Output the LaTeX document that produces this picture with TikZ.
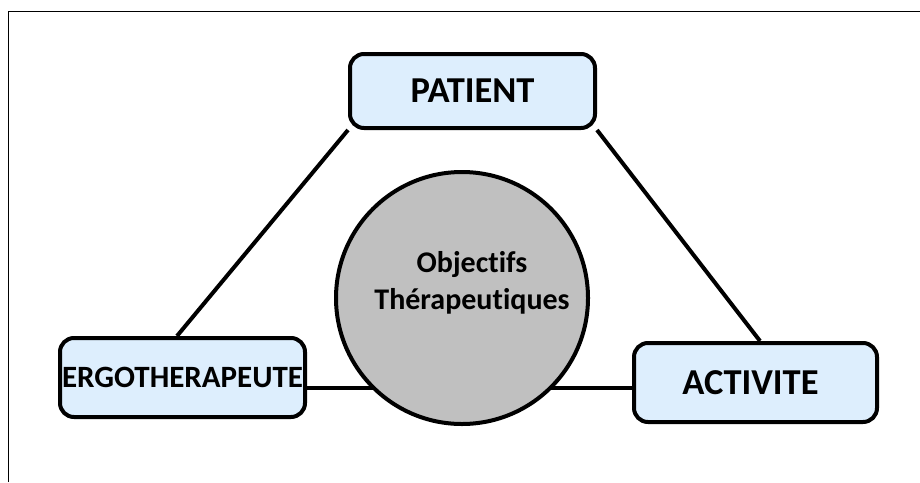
\documentclass[tikz,border=0pt]{standalone}
\usepackage{fontspec}
\setmainfont{Carlito}[Ligatures={NoCommon}]
\usetikzlibrary{backgrounds}
\definecolor{boxfill}{HTML}{DDEEFD}
\definecolor{circfill}{HTML}{C0C0C0}
\begin{document}
\begin{tikzpicture}[x=1pt,y=-1pt,
  box/.style={draw=black,line width=4pt,rounded corners=14pt,fill=boxfill,inner sep=0pt,font=\bfseries\fontsize{36.5}{40}\selectfont},
  link/.style={line width=4pt}]
\useasboundingbox (0,0) rectangle (920,482);
\draw[line width=1pt] (8,482) -- (8,11) -- (920,11);
\node[box,minimum width=245pt,minimum height=74pt] (patient) at (472.5,91) {PATIENT};
\node[box,minimum width=245pt,minimum height=79pt,font=\bfseries\fontsize{31}{34}\selectfont] (ergo) at (182.5,377.5) {ERGOTHERAPEUTE};
\node[box,minimum width=243pt,minimum height=79pt] (act) at (755.5,382.5) {ACTIVITE\hspace*{10pt}};
\node[circle,draw=black,line width=4pt,fill=circfill,minimum size=252pt,inner sep=0pt] (obj) at (462,298) {};
\node[align=center,font=\bfseries\fontsize{30}{37}\selectfont] (objtext) at (472,283) {Objectifs\\Thérapeutiques};
\coordinate (ergotop) at (177,336);
\coordinate (acttop) at (760,341);
\coordinate (ergoright) at (ergo.east |- 0,388);
\coordinate (actleft) at (act.west |- 0,388);
\coordinate (mid) at (obj.center |- 0,388);
\begin{scope}[on background layer]
\draw[link] (patient.south west) -- (ergotop);
\draw[link] (patient.south east) -- (acttop);
\draw[link] (ergoright) -- (mid);
\draw[link] (actleft) -- (mid);
\end{scope}
\end{tikzpicture}
\end{document}
